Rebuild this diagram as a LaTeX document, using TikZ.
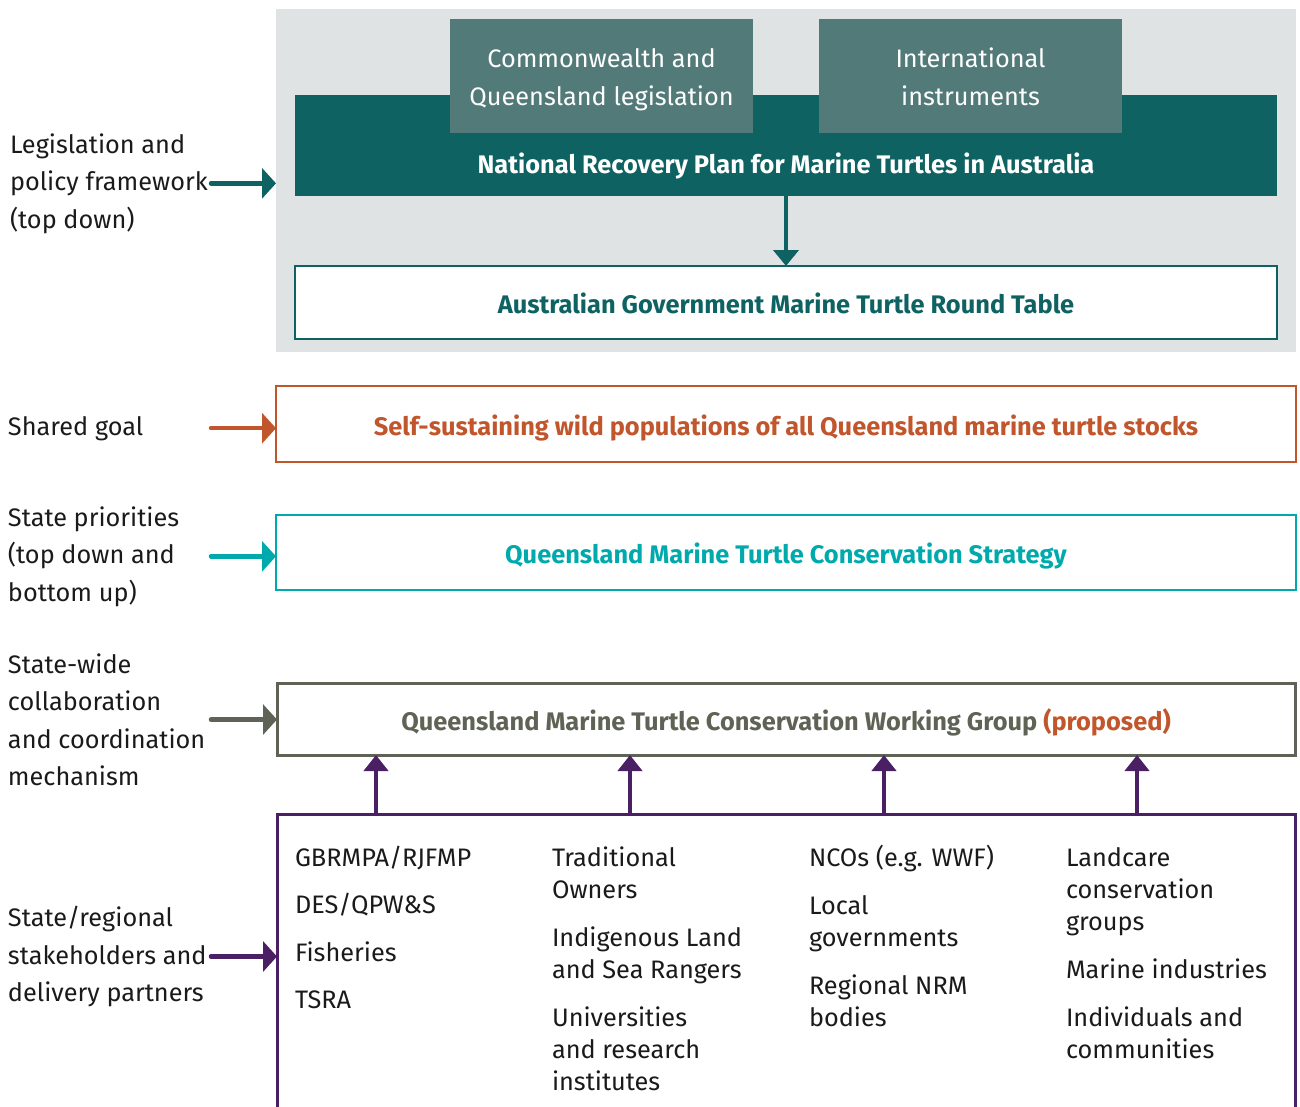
\documentclass[tikz,border=0pt]{standalone}
\usepackage{fontspec}
\setmainfont{Fira Sans}
\usetikzlibrary{arrows.meta}
\definecolor{bggrey}{HTML}{DFE3E4}
\definecolor{tealdark}{HTML}{0E6262}
\definecolor{tealmid}{HTML}{527A79}
\definecolor{orng}{HTML}{C1552B}
\definecolor{cyanq}{HTML}{00A9AC}
\definecolor{olivegrey}{HTML}{5F6356}
\definecolor{purp}{HTML}{4B1F64}
\definecolor{txt}{HTML}{1A1A1A}
\tikzset{
  every node/.style={inner sep=0pt, outer sep=0pt},
  panel/.style 2 args={rectangle, minimum width=#1, minimum height=#2},
  lbl/.style={align=left, anchor=base west, text=txt, font=\fontsize{25.3}{37.5}\selectfont},
  col/.style={align=left, anchor=base west, text=txt, font=\fontsize{25.3}{32}\selectfont},
  ttl/.style={anchor=base, font=\bfseries\fontsize{25.4}{30}\selectfont},
  larrow/.style={draw=#1, line width=4.5pt, line cap=round, -{Triangle[length=14pt,width=30pt]}},
  uparrow/.style={draw=purp, line width=4.5pt, -{Triangle[length=16pt,width=24pt]}}
}
\begin{document}
\begin{tikzpicture}[x=1pt,y=-1pt]
\useasboundingbox (0,0) rectangle (1300,1106);
% top grey panel
\node[panel={1020}{343}, fill=bggrey, anchor=north west] (bg) at (276,9) {};
\node[panel={982}{101}, fill=tealdark, anchor=north west] (bar) at (295,95) {};
\node[panel={303}{114}, fill=tealmid, anchor=north west] (leg) at (450,19) {};
\node[panel={303}{114}, fill=tealmid, anchor=north west] (intl) at (819,19) {};
\node[align=center, anchor=base, text=white, font=\fontsize{25.3}{38}\selectfont] (legt) at (601.5,105) {Commonwealth and\\Queensland legislation};
\node[align=center, anchor=base, text=white, font=\fontsize{25.3}{38}\selectfont] (intlt) at (970.5,105) {International\\instruments};
\node[ttl, text=white] (bart) at (786,173) {National Recovery Plan for Marine Turtles in Australia};
\node[panel={982}{73}, draw=tealdark, line width=2.5pt, fill=white, anchor=north west] (rt) at (295,266) {};
\node[ttl, text=tealdark] (rtt) at (786,313) {Australian Government Marine Turtle Round Table};
\draw[draw=tealdark, line width=4pt, -{Triangle[length=16pt,width=25pt]}] (bar.south) -- (rt.north);
% shared goal
\node[panel={1020}{76}, draw=orng, line width=2.5pt, anchor=north west] (goal) at (276,386) {};
\node[ttl, text=orng] (goalt) at (786,435) {Self-sustaining wild populations of all Queensland marine turtle stocks};
% strategy
\node[panel={1020}{75}, draw=cyanq, line width=2.5pt, anchor=north west] (strat) at (276,515) {};
\node[ttl, text=cyanq] (stratt) at (786,563) {Queensland Marine Turtle Conservation Strategy};
% working group
\node[panel={1018}{72}, draw=olivegrey, line width=3pt, anchor=north west] (wg) at (277,683) {};
\node[ttl, text=olivegrey] (wgt) at (786,730) {Queensland Marine Turtle Conservation Working Group \textcolor{orng}{(proposed)}};
% stakeholders
\node[panel={1018}{320}, draw=purp, line width=3pt, anchor=north west] (sb) at (277,814) {};
\foreach \i/\x in {1/376,2/630,3/884,4/1137}{
  \coordinate (u\i) at (\x,0);
  \draw[uparrow] (u\i |- sb.north) -- (u\i |- wg.south);
}
\node[col] (c1) at (295,1008.5) {GBRMPA/RJFMP\\[15.5pt]DES/QPW\&S\\[15.5pt]Fisheries\\[15.5pt]TSRA};
\node[col] (c2) at (552,1090) {Traditional\\Owners\\[16pt]Indigenous Land\\and Sea Rangers\\[16pt]Universities\\and research\\institutes};
\node[col] (c3) at (809,1026) {NCOs (e.g. WWF)\\[16pt]Local\\governments\\[16pt]Regional NRM\\bodies};
\node[col] (c4) at (1066,1058) {Landcare\\conservation\\groups\\[16pt]Marine industries\\[16pt]Individuals and\\communities};
% left labels
\node[lbl] (l1) at (10,228) {Legislation and\\policy framework\\(top down)};
\node[lbl] (l2) at (8,435) {Shared goal};
\node[lbl] (l3) at (8,601) {State priorities\\(top down and\\bottom up)};
\node[lbl] (l4) at (8,785.5) {State-wide\\collaboration\\and coordination\\mechanism};
\node[lbl] (l5) at (8,1001.5) {State/regional\\stakeholders and\\delivery partners};
\coordinate (ax) at (211,0);
\draw[larrow=tealdark] (ax |- l1) -- (bg.west |- l1);
\draw[larrow=orng] (ax |- l2) -- (goal.west |- l2);
\draw[larrow=cyanq] (ax |- l3) -- (strat.west |- l3);
\draw[larrow=olivegrey] (ax |- l4) -- (wg.west |- l4);
\draw[larrow=purp] (ax |- l5) -- (sb.west |- l5);
\end{tikzpicture}
\end{document}
